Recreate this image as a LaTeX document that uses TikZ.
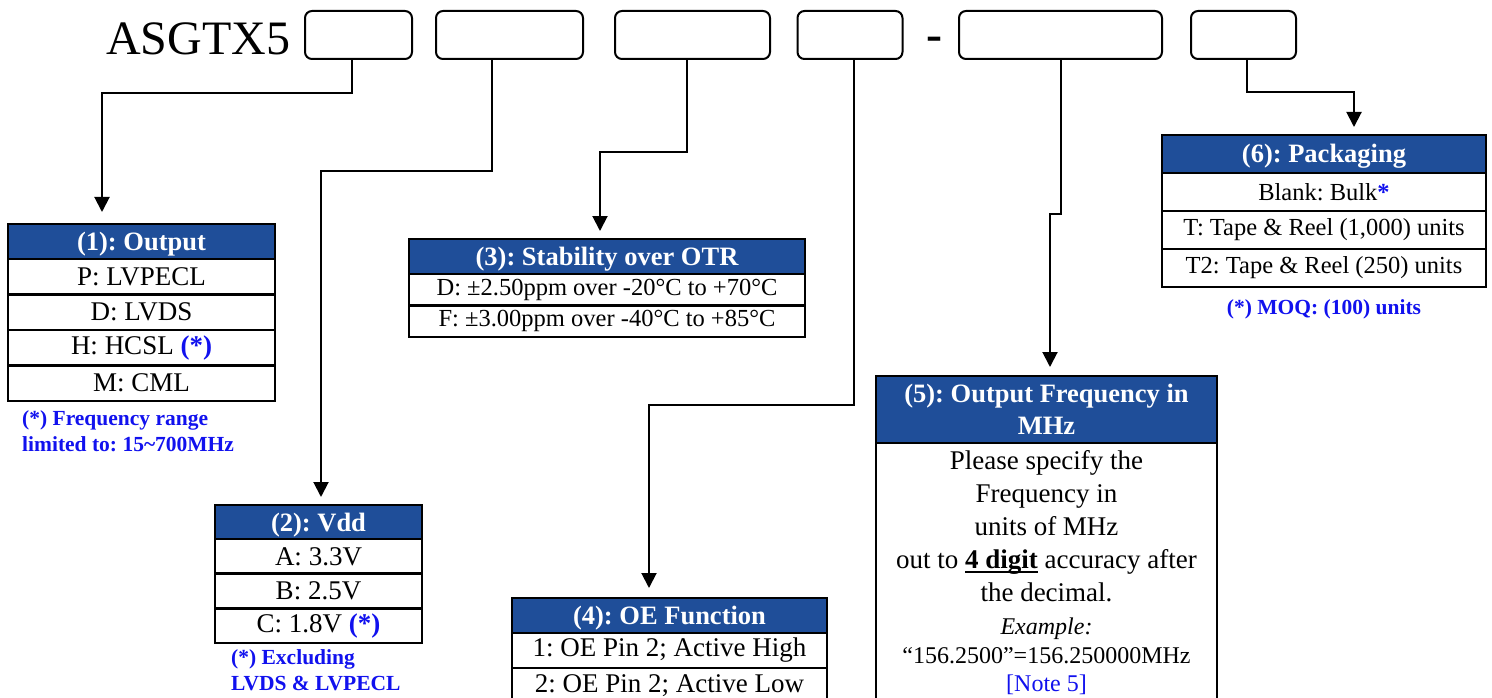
\documentclass[tikz,border=0pt]{standalone}
\usepackage{fontspec}
\setmainfont{Liberation Serif}
\usepackage{xcolor}
\usetikzlibrary{arrows.meta, positioning}
\definecolor{hdrBlue}{RGB}{31,78,153}
\definecolor{noteBlue}{RGB}{17,17,238}

\tikzset{
  slot/.style={draw, line width=2pt, rounded corners=7pt, minimum height=48pt, inner sep=0pt},
  hdr/.style={draw, line width=2.5pt, fill=hdrBlue, text=white, font=\fontsize{26.5}{32}\selectfont\bfseries,
              inner sep=0pt, outer sep=0pt, anchor=north west, align=center},
  hdrone/.style={hdr, text height=22pt, text depth=4pt},
  cell/.style={draw, line width=2.5pt, fill=white, font=\fontsize{24.5}{28}\selectfont, inner sep=0pt, outer sep=0pt},
  bigcell/.style={cell, font=\fontsize{27}{30}\selectfont},
  note/.style={text=noteBlue, font=\fontsize{21.5}{26}\selectfont\bfseries, inner sep=0pt},
  feed/.style={line width=2pt, -{Triangle[width=15pt, length=15pt]}},
}
\newcommand{\noteMark}{\textcolor{noteBlue}{\textbf{(*)}}}
\newcommand{\thickUL}[1]{\setbox0\hbox{#1}\rlap{\rule[-4.5pt]{\wd0}{2.2pt}}\box0{}}
\newcommand{\smallsize}{\fontsize{24}{28}\selectfont}

\begin{document}
\frenchspacing
\begin{tikzpicture}[x=1pt, y=-1pt]
  \useasboundingbox (0,0) rectangle (1492,698);

  % part number and empty slots
  \node[font=\fontsize{48}{50}\selectfont, anchor=base west, inner sep=0pt] (pn) at (106,55) {ASGTX5};
  \node[slot, minimum width=107pt] (s1) at (358.5,35) {};
  \node[slot, minimum width=147pt] (s2) at (509.5,35) {};
  \node[slot, minimum width=155pt] (s3) at (692.5,35) {};
  \node[slot, minimum width=105pt] (s4) at (850,35) {};
  \node[font=\fontsize{48}{50}\selectfont\bfseries, inner sep=0pt] (dash) at (934,44) {-};
  \node[slot, minimum width=203pt] (s5) at (1060.5,35) {};
  \node[slot, minimum width=105pt] (s6) at (1243.5,35) {};

  % (1) output
  \node[hdrone, minimum width=267pt, minimum height=35pt] (t1h) at (8,224) {(1): Output};
  \node[bigcell, minimum width=267pt, minimum height=35.5pt, below=0pt of t1h] (t1a) {P: LVPECL};
  \node[bigcell, minimum width=267pt, minimum height=35.5pt, below=0pt of t1a] (t1b) {D: LVDS};
  \node[bigcell, minimum width=267pt, minimum height=35.5pt, below=0pt of t1b] (t1c) {H: HCSL \noteMark};
  \node[bigcell, minimum width=267pt, minimum height=35.5pt, below=0pt of t1c] (t1d) {M: CML};
  \node[note, anchor=west, align=left] (n1) at (22,431) {(*) Frequency range\\limited to: 15\textasciitilde700MHz};

  % (2) vdd
  \node[hdrone, minimum width=207pt, minimum height=34pt] (t2h) at (215,505) {(2): Vdd};
  \node[bigcell, minimum width=207pt, minimum height=34.7pt, below=0pt of t2h] (t2a) {A: 3.3V};
  \node[bigcell, minimum width=207pt, minimum height=34.7pt, below=0pt of t2a] (t2b) {B: 2.5V};
  \node[bigcell, minimum width=207pt, minimum height=34.7pt, below=0pt of t2b] (t2c) {C: 1.8V \noteMark};
  \node[note, anchor=west, align=left] (n2) at (231,670) {(*) Excluding\\LVDS \& LVPECL};

  % (3) stability
  \node[hdrone, minimum width=396pt, minimum height=35pt] (t3h) at (409,239) {(3): Stability over OTR};
  \node[cell, minimum width=396pt, minimum height=31.5pt, below=0pt of t3h] (t3a) {D: ±2.50ppm over -20°C to +70°C};
  \node[cell, minimum width=396pt, minimum height=31.5pt, below=0pt of t3a] (t3b) {F: ±3.00ppm over -40°C to +85°C};

  % (4) oe function
  \node[hdrone, minimum width=315pt, minimum height=35pt] (t4h) at (512,598) {(4): OE Function};
  \node[bigcell, minimum width=315pt, minimum height=35pt, below=0pt of t4h] (t4a) {1: OE Pin 2; Active High};
  \node[bigcell, minimum width=315pt, minimum height=35pt, below=0pt of t4a] (t4b) {2: OE Pin 2; Active Low};

  % (5) frequency
  \node[hdr, minimum width=341pt, minimum height=67pt] (t5h) at (876,376) {(5): Output Frequency in\\MHz};
  \node[cell, minimum width=341pt, minimum height=270pt, below=0pt of t5h] (t5b) {};
  \node[anchor=north, align=center, inner sep=0pt, font=\fontsize{27}{33}\selectfont] (t5t)
    at ([yshift=-7pt]t5b.north) {Please specify the\\Frequency in\\units of MHz\\
      out to \thickUL{\textbf{4 digit}} accuracy after\\the decimal.\\
      \smallsize\textit{Example:}\\[-4pt]\smallsize“156.2500”=156.250000MHz\\[-5pt]\smallsize\textcolor{noteBlue}{[Note 5]}};

  % (6) packaging
  \node[hdrone, minimum width=324pt, minimum height=38pt] (t6h) at (1162,135) {(6): Packaging};
  \node[cell, minimum width=324pt, minimum height=38pt, below=0pt of t6h] (t6a) {Blank: Bulk\textcolor{noteBlue}{\textbf{*}}};
  \node[cell, minimum width=324pt, minimum height=38pt, below=0pt of t6a] (t6b) {T: Tape \& Reel (1,000) units};
  \node[cell, minimum width=324pt, minimum height=38pt, below=0pt of t6b] (t6c) {T2: Tape \& Reel (250) units};
  \node[note, below=12pt of t6c] (n6) {(*) MOQ: (100) units};

  % arrow ends
  \coordinate (e1) at (102,212);
  \coordinate (e2) at (321,497);
  \coordinate (e3) at (600,231);
  \coordinate (e4) at (649,588);
  \coordinate (e5) at (1050,367);
  \coordinate (e6) at (1354,127);

  \draw[feed] ([xshift=-6.5pt]s1.south) -- ++(0,33) -| (e1);
  \draw[feed] ([xshift=-17.5pt]s2.south) -- ++(0,111) -| (e2);
  \draw[feed] ([xshift=-5.5pt]s3.south) -- ++(0,92) -| (e3);
  \draw[feed] ([xshift=4pt]s4.south) -- ++(0,345) -| (e4);
  \draw[feed] (s5.south) -- ++(0,154) -| (e5);
  \draw[feed] ([xshift=3.5pt]s6.south) -- ++(0,32) -| (e6);
\end{tikzpicture}
\end{document}
